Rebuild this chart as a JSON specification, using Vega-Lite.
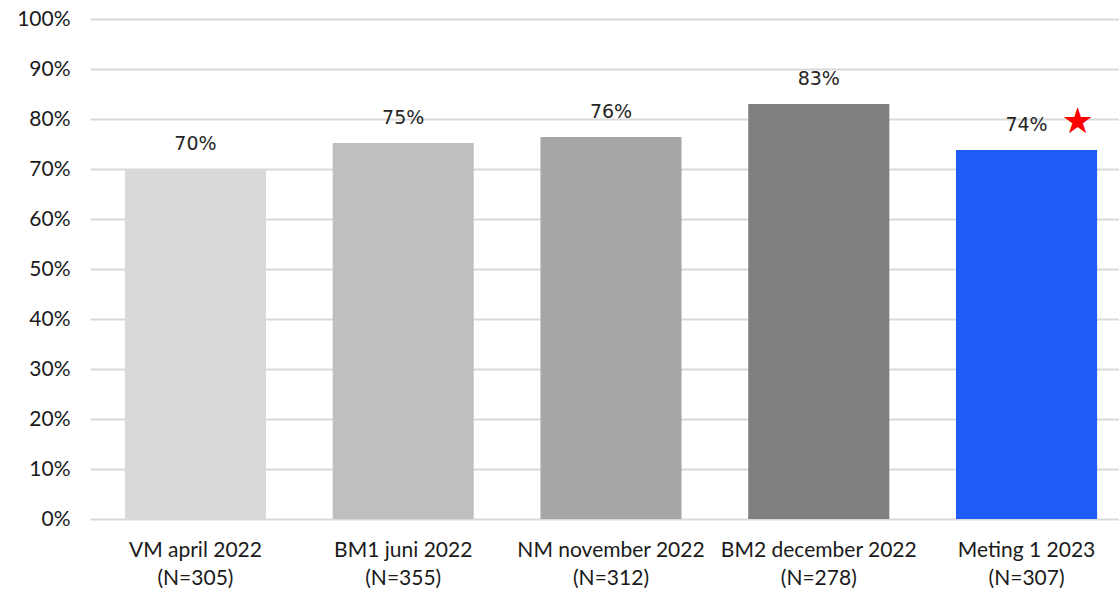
{
  "$schema": "https://vega.github.io/schema/vega-lite/v6.json",
  "width": 1029,
  "height": 500,
  "autosize": "none",
  "padding": {"left": 90, "top": 19, "right": 0, "bottom": 73},
  "background": "white",
  "data": {
    "values": [
      {"label": "VM april 2022|(N=305)", "value": 0.70, "text": "70%", "color": "#d9d9d9", "marker": ""},
      {"label": "BM1 juni 2022|(N=355)", "value": 0.752, "text": "75%", "color": "#bfbfbf", "marker": ""},
      {"label": "NM november 2022|(N=312)", "value": 0.764, "text": "76%", "color": "#a6a6a6", "marker": ""},
      {"label": "BM2 december 2022|(N=278)", "value": 0.83, "text": "83%", "color": "#7f7f7f", "marker": ""},
      {"label": "Meting 1 2023|(N=307)", "value": 0.738, "text": "74%", "color": "#1f5cf5", "marker": "★"}
    ]
  },
  "config": {"view": {"stroke": null}},
  "encoding": {
    "x": {
      "field": "label", "type": "nominal", "sort": null,
      "scale": {"range": [0, 1042], "paddingInner": 0.321, "paddingOuter": 0.168},
      "axis": {
        "title": null, "labelAngle": 0, "domain": false, "ticks": false,
        "labelExpr": "split(datum.label, '|')",
        "labelFont": "Lato", "labelFontSize": 21, "labelColor": "#1a1a1a",
        "labelLineHeight": 28, "labelPadding": 20, "labelOverlap": false, "labelLimit": 0
      }
    },
    "y": {
      "field": "value", "type": "quantitative",
      "scale": {"domain": [0, 1], "nice": false},
      "axis": {
        "title": null, "format": ".0%", "values": [0,0.1,0.2,0.3,0.4,0.5,0.6,0.7,0.8,0.9,1],
        "domain": false, "ticks": false, "labelOverlap": false,
        "grid": true, "gridColor": "#d9d9d9", "gridWidth": 2,
        "labelFont": "Lato", "labelFontSize": 21, "labelColor": "#1a1a1a",
        "labelPadding": 20
      }
    }
  },
  "layer": [
    {
      "mark": {"type": "bar"},
      "encoding": {"color": {"field": "color", "type": "nominal", "scale": null}}
    },
    {
      "mark": {"type": "text", "baseline": "bottom", "dy": -15, "font": "DejaVu Sans", "fontSize": 19, "color": "#262626"},
      "encoding": {"text": {"field": "text"}}
    },
    {
      "mark": {"type": "text", "baseline": "middle", "dy": -28, "dx": 51, "font": "DejaVu Sans", "fontSize": 36, "color": "#ff0000"},
      "encoding": {"text": {"field": "marker"}}
    }
  ]
}
